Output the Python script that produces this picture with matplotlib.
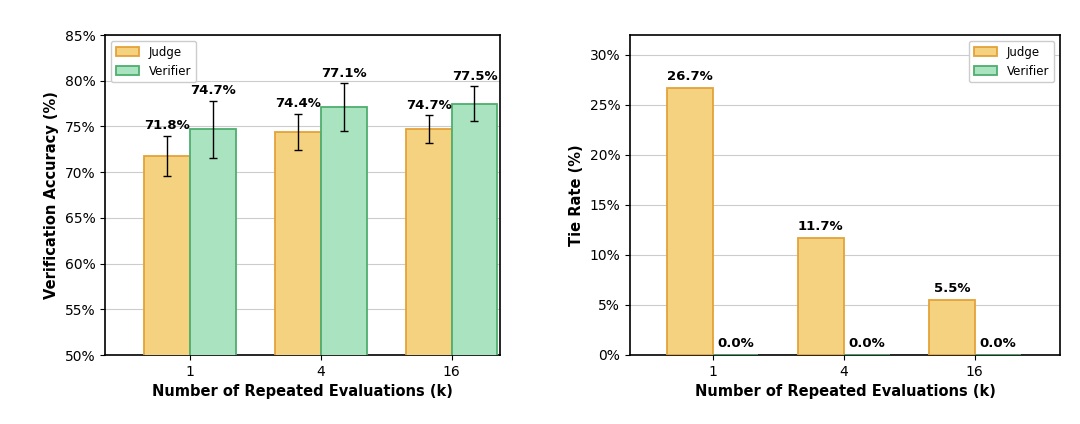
import matplotlib.pyplot as plt
import numpy as np

ks = ["1", "4", "16"]
judge_acc = [71.8, 74.4, 74.7]
verifier_acc = [74.7, 77.1, 77.5]
judge_err = [2.2, 2.0, 1.5]
verifier_err = [3.1, 2.6, 1.9]
judge_tie = [26.7, 11.7, 5.5]
verifier_tie = [0.0, 0.0, 0.0]

jc, je = "#F5D27F", "#E3A33A"
vc, ve = "#A9E3C0", "#4FAE6E"

fig = plt.figure(figsize=(10.8, 4.24), dpi=100)
ax1 = fig.add_axes([105/1080, 69/424, 395/1080, 320/424])
ax2 = fig.add_axes([630/1080, 69/424, 430/1080, 320/424])
x = np.arange(len(ks))
w = 0.35

ax1.bar(x - w/2, judge_acc, w, color=jc, edgecolor=je, linewidth=1.3, label="Judge", zorder=3,
        yerr=judge_err, capsize=3, error_kw=dict(lw=1, ecolor="black"))
ax1.bar(x + w/2, verifier_acc, w, color=vc, edgecolor=ve, linewidth=1.3, label="Verifier", zorder=3,
        yerr=verifier_err, capsize=3, error_kw=dict(lw=1, ecolor="black"))
for i in range(len(ks)):
    ax1.text(x[i] - w/2, judge_acc[i] + judge_err[i] + 0.4, f"{judge_acc[i]}%", ha="center", va="bottom",
             fontsize=9.5, fontweight="bold")
    ax1.text(x[i] + w/2, verifier_acc[i] + verifier_err[i] + 0.4, f"{verifier_acc[i]}%", ha="center", va="bottom",
             fontsize=9.5, fontweight="bold")
ax1.set_ylim(50, 85)
ax1.set_yticks(range(50, 86, 5))
ax1.set_yticklabels([f"{v}%" for v in range(50, 86, 5)])
ax1.set_ylabel("Verification Accuracy (%)", fontsize=10.5, fontweight="bold")
ax1.set_xlim(-0.65, 2.37)

ax2.bar(x - w/2, judge_tie, w, color=jc, edgecolor=je, linewidth=1.3, label="Judge", zorder=3)
ax2.bar(x + w/2, verifier_tie, w, color=vc, edgecolor=ve, linewidth=1.3, label="Verifier", zorder=3)
for i in range(len(ks)):
    ax2.text(x[i] - w/2, judge_tie[i] + 0.5, f"{judge_tie[i]}%", ha="center", va="bottom",
             fontsize=9.5, fontweight="bold")
    ax2.text(x[i] + w/2, verifier_tie[i] + 0.5, f"{verifier_tie[i]}%", ha="center", va="bottom",
             fontsize=9.5, fontweight="bold")
ax2.set_ylim(0, 32)
ax2.set_yticks(range(0, 31, 5))
ax2.set_yticklabels([f"{v}%" for v in range(0, 31, 5)])
ax2.set_ylabel("Tie Rate (%)", fontsize=10.5, fontweight="bold")
ax2.set_xlim(-0.63, 2.65)

for ax, loc in ((ax1, "upper left"), (ax2, "upper right")):
    ax.set_xticks(x)
    ax.set_xticklabels(ks)
    ax.set_xlabel("Number of Repeated Evaluations (k)", fontsize=10.5, fontweight="bold")
    ax.yaxis.grid(True, color="#cccccc", lw=0.8, zorder=0)
    ax.tick_params(labelsize=10)
    ax.legend(loc=loc, fontsize=8.5, framealpha=1, edgecolor="#cccccc")
    for s in ax.spines.values():
        s.set_linewidth(1.2)

fig.savefig("out.png", dpi=100)
